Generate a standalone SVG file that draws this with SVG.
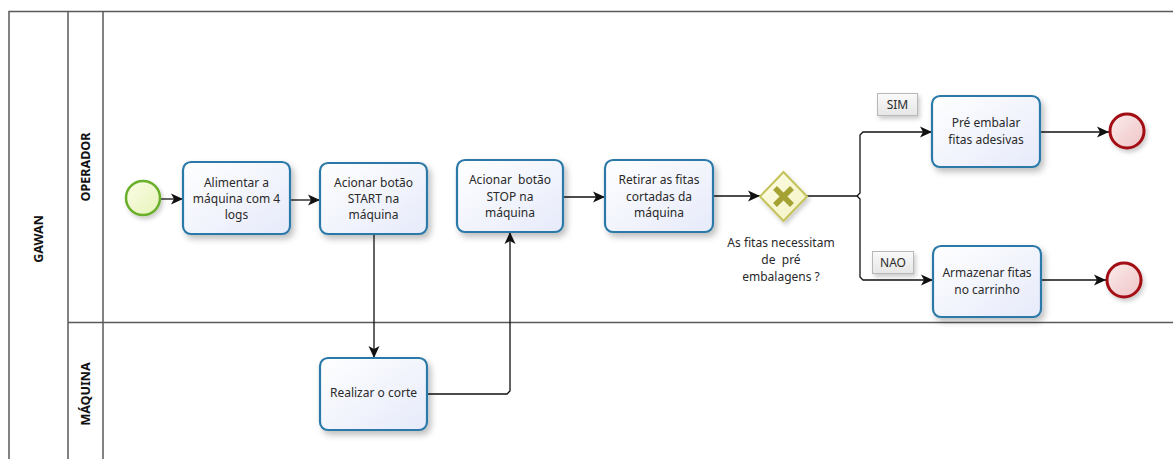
<svg xmlns="http://www.w3.org/2000/svg" width="1173" height="459" viewBox="0 0 1173 459">
<defs>
<style>
.pool{stroke:#5a5a5a;stroke-width:1.5;fill:none}
.lbl{font-family:"Noto Sans","Open Sans","DejaVu Sans",sans-serif;font-size:12.5px;font-weight:bold;fill:#111;text-anchor:middle}
.task{fill:url(#tg);stroke:#2b79a8;stroke-width:2.2;filter:url(#sh)}
.t{font-family:"Noto Sans","Open Sans","DejaVu Sans",sans-serif;font-size:12px;fill:#2a2a2a;text-anchor:middle}
.con{stroke:#111;stroke-width:1.3;fill:none;marker-end:url(#arr)}
.tag{fill:url(#gg);stroke:#b8b8b8;stroke-width:1;filter:url(#sh2)}
</style>
<linearGradient id="tg" x1="0" y1="0" x2="1" y2="1"><stop offset="0" stop-color="#ffffff"/><stop offset="1" stop-color="#e6eafa"/></linearGradient>
<linearGradient id="sg" x1="0" y1="0" x2="1" y2="1"><stop offset="0" stop-color="#fbfde8"/><stop offset="1" stop-color="#e6f3b8"/></linearGradient>
<linearGradient id="eg" x1="0" y1="0" x2="1" y2="1"><stop offset="0" stop-color="#fbecec"/><stop offset="1" stop-color="#efc3c6"/></linearGradient>
<linearGradient id="yg" x1="0" y1="0" x2="1" y2="1"><stop offset="0" stop-color="#fdfde8"/><stop offset="1" stop-color="#f3f2c0"/></linearGradient>
<linearGradient id="gg" x1="0" y1="0" x2="0" y2="1"><stop offset="0" stop-color="#fafafa"/><stop offset="1" stop-color="#e6e6e6"/></linearGradient>
<filter id="sh" x="-20%" y="-20%" width="150%" height="150%"><feDropShadow dx="3" dy="4" stdDeviation="3" flood-color="#000" flood-opacity="0.25"/></filter>
<filter id="sh2" x="-20%" y="-20%" width="160%" height="160%"><feDropShadow dx="2" dy="3" stdDeviation="2" flood-color="#000" flood-opacity="0.2"/></filter>
<marker id="arr" markerUnits="userSpaceOnUse" markerWidth="12" markerHeight="12" viewBox="0 0 12 12" refX="12" refY="6" orient="auto"><path d="M0,0.5 L12,6 L0,11.5 L3,6 z" fill="#111"/></marker>
</defs>
<rect width="1173" height="459" fill="#fff"/>
<g id="pool">
<path class="pool" d="M9,460 L9,11.5 L1173,11.5"/>
<path class="pool" d="M68,11.5 L68,460 M103,11.5 L103,460 M68,322.5 L1173,322.5"/>
<text class="lbl" transform="rotate(-90 38 239)" x="38" y="243.5">GAWAN</text>
<text class="lbl" transform="rotate(-90 85 167)" x="85" y="171.5">OPERADOR</text>
<text class="lbl" transform="rotate(-90 85 394)" x="85" y="398.5">MÁQUINA</text>
</g>
<g id="connectors">
<path class="con" d="M161,199 L183,199"/>
<path class="con" d="M290,200 L320,200"/>
<path class="con" d="M374,234 L374,358"/>
<path class="con" d="M427,394 L507,394 L510,391 L510,232"/>
<path class="con" d="M563,197 L605,197"/>
<path class="con" d="M713,196 L760,196"/>
<path class="con" d="M807,196 L857,196 L860,193 L860,135 L863,132 L932,132"/>
<path class="con" d="M857,196 L860,199 L860,277 L863,280 L933,280"/>
<path class="con" d="M1040,132 L1109,132"/>
<path class="con" d="M1041,280 L1106,280"/>
</g>
<g id="start"><circle cx="143" cy="198" r="17" fill="url(#sg)" stroke="#6aaf2c" stroke-width="2.5" filter="url(#sh2)"/></g>
<g id="t1"><rect class="task" x="183" y="162" width="107" height="72" rx="8"/>
<text class="t" x="236.5" y="187">Alimentar a</text><text class="t" x="236.5" y="203">máquina com 4</text><text class="t" x="236.5" y="219">logs</text></g>
<g id="t2"><rect class="task" x="320" y="163" width="107" height="71" rx="8"/>
<text class="t" x="373.5" y="187">Acionar botão</text><text class="t" x="373.5" y="203">START na</text><text class="t" x="373.5" y="219">máquina</text></g>
<g id="t3"><rect class="task" x="457" y="160" width="106" height="72" rx="8"/>
<text class="t" x="510" y="184" xml:space="preserve">Acionar  botão</text><text class="t" x="510" y="201">STOP na</text><text class="t" x="510" y="217">máquina</text></g>
<g id="t4"><rect class="task" x="605" y="160" width="108" height="72" rx="8"/>
<text class="t" x="659" y="184">Retirar as fitas</text><text class="t" x="659" y="201">cortadas da</text><text class="t" x="659" y="217">máquina</text></g>
<g id="gateway"><path d="M783.5,172 L807,196.5 L783.5,221 L760,196.5 z" fill="url(#yg)" stroke="#c4c25a" stroke-width="2" filter="url(#sh2)"/>
<path d="M775,188 L792,205 M792,188 L775,205" stroke="#a4a232" stroke-width="5.5" stroke-linecap="butt"/>
<text class="t" x="781" y="247">As fitas necessitam</text><text class="t" x="781" y="264" xml:space="preserve">de  pré</text><text class="t" x="781" y="281">embalagens ?</text></g>
<g id="sim"><rect class="tag" x="877.5" y="93.5" width="40" height="22"/><text class="t" x="897.5" y="109">SIM</text></g>
<g id="nao"><rect class="tag" x="872.5" y="251.5" width="41" height="22"/><text class="t" x="893" y="267">NAO</text></g>
<g id="t5"><rect class="task" x="932" y="96" width="108" height="71" rx="8"/>
<text class="t" x="986" y="127">Pré embalar</text><text class="t" x="986" y="144">fitas adesivas</text></g>
<g id="t6"><rect class="task" x="933" y="246" width="108" height="71" rx="8"/>
<text class="t" x="987" y="277">Armazenar fitas</text><text class="t" x="987" y="294">no carrinho</text></g>
<g id="end1"><circle cx="1127" cy="131" r="17" fill="url(#eg)" stroke="#a30f12" stroke-width="3" filter="url(#sh2)"/></g>
<g id="end2"><circle cx="1124" cy="280" r="17" fill="url(#eg)" stroke="#a30f12" stroke-width="3" filter="url(#sh2)"/></g>
<g id="t7"><rect class="task" x="320" y="358" width="107" height="72" rx="8"/>
<text class="t" x="373.5" y="397">Realizar o corte</text></g>
</svg>
